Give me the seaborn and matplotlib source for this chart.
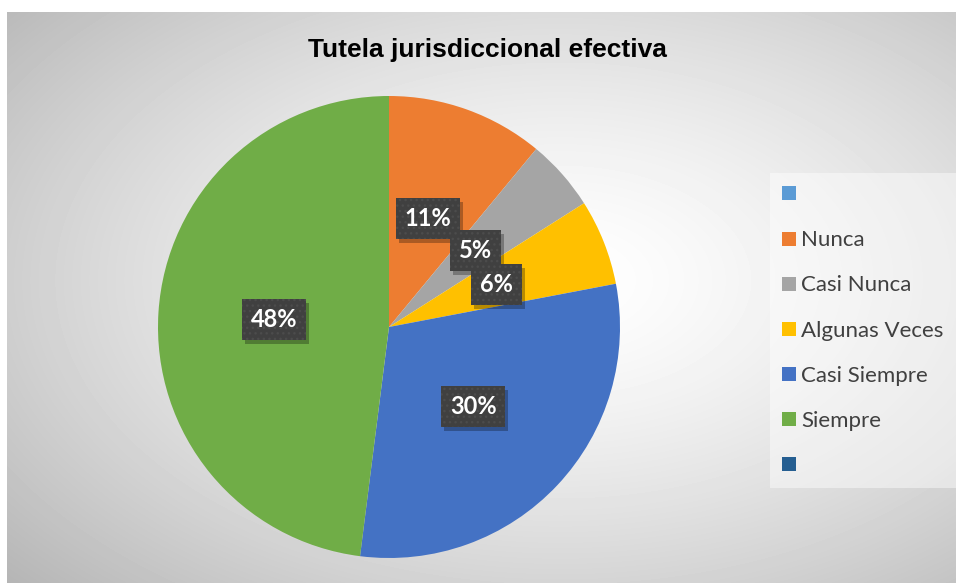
import numpy as np
import matplotlib
matplotlib.use("Agg")
import matplotlib.pyplot as plt
import seaborn as sns
from matplotlib.lines import Line2D
from matplotlib.transforms import offset_copy

# ---- data ----
categories = ["Nunca", "Casi Nunca", "Algunas Veces", "Casi Siempre", "Siempre"]
values = [11, 5, 6, 30, 48]
colors = ["#ED7D31", "#A5A5A5", "#FFC000", "#4472C4", "#70AD47"]
legend_labels = ["", "Nunca", "Casi Nunca", "Algunas Veces", "Casi Siempre", "Siempre", ""]
legend_colors = ["#5B9BD5", "#ED7D31", "#A5A5A5", "#FFC000", "#4472C4", "#70AD47", "#255E91"]
title = "Tutela jurisdiccional efectiva"

sns.set_theme(style="white")
plt.rcParams["font.family"] = ["Lato", "DejaVu Sans"]

W, H = 956, 583
fig = plt.figure(figsize=(W / 100, H / 100), dpi=100)
fig.patch.set_facecolor("white")

# background radial gradient panel
bx0, by0, bx1, by1 = 7, 12, 956, 583  # pixel box (top-left origin)
bg = fig.add_axes([bx0 / W, 1 - by1 / H, (bx1 - bx0) / W, (by1 - by0) / H], zorder=-10)
yy, xx = np.mgrid[by0:by1, bx0:bx1]
cx, cy = 560, 280
dx = (xx - cx) / ((bx1 - bx0) / 2)
dy = (yy - cy) / ((by1 - by0) / 2)
r = np.sqrt(dx ** 2 + dy ** 2) / np.sqrt(2)
val = 1 - 0.25 * np.clip(r, 0, 1.3) ** 1.4
bg.imshow(val, cmap="gray", vmin=0, vmax=1, aspect="auto", interpolation="bilinear")
bg.set_axis_off()

# pie axes
cxp, cyp, R = 389, 327, 231
ax = fig.add_axes([(cxp - R) / W, (H - cyp - R) / H, 2 * R / W, 2 * R / H])
ax.set_facecolor("none")
lbl_font = dict(color="white", fontsize=17, fontweight="bold", family=["Lato", "DejaVu Sans"])
wedges, texts, autotexts = ax.pie(
    values, colors=colors, startangle=90, counterclock=False,
    autopct="%1.0f%%", pctdistance=0.5, radius=1,
    wedgeprops=dict(linewidth=0), textprops=lbl_font,
)
ax.set_xlim(-1, 1)
ax.set_ylim(-1, 1)
ax.set_axis_off()
box = dict(boxstyle="square,pad=0.38")
for t in autotexts:
    x, y = t.get_position()
    # soft drop shadow
    sh = ax.text(x, y, t.get_text(), ha="center", va="center", alpha=0,
                 transform=offset_copy(ax.transData, fig=fig, x=3, y=-4, units="dots"),
                 **{k: v for k, v in lbl_font.items() if k != "color"}, zorder=4)
    sh.set_bbox(dict(boxstyle=box["boxstyle"], facecolor="black", alpha=0.28, linewidth=0))
    t.set_zorder(5)
    t.set_bbox(dict(boxstyle=box["boxstyle"], facecolor="#404040", edgecolor="#4c4c4c",
                    linewidth=0, hatch="..."))

# title
fig.text(487 / W, 1 - 50 / H, title, ha="center", va="center", fontsize=19,
         fontweight="bold", family=["Liberation Sans", "DejaVu Sans"], color="black")

# legend
handles = [Line2D([0], [0], marker="s", linestyle="none", markersize=10.5,
                  markerfacecolor=c, markeredgewidth=0) for c in legend_colors]
leg = fig.legend(handles, legend_labels, loc="upper left",
                 bbox_to_anchor=(770 / W, 1 - 173 / H), bbox_transform=fig.transFigure,
                 frameon=True, fontsize=16, labelspacing=1.13, handlelength=0.6,
                 handletextpad=0.25, borderpad=0.55, borderaxespad=0, fancybox=False)
leg.get_frame().set_facecolor("white")
leg.get_frame().set_alpha(0.45)
leg.get_frame().set_linewidth(0)
for t in leg.get_texts():
    t.set_color("#404040")

fig.savefig("out.png", dpi=100)
